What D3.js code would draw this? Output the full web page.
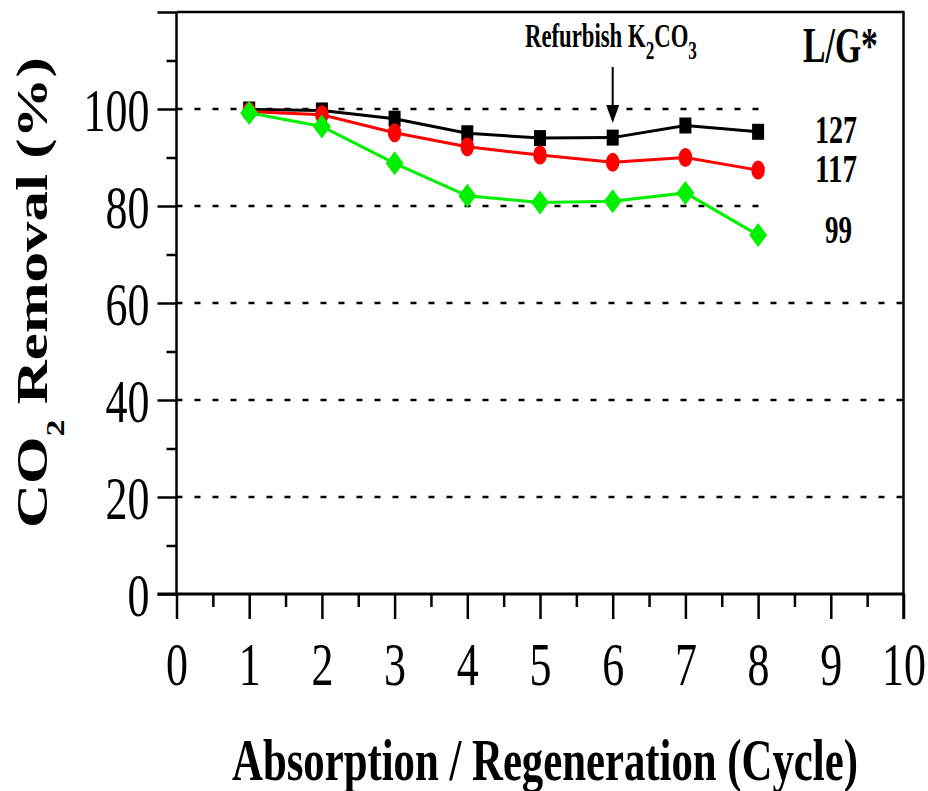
<!DOCTYPE html>
<html><head><meta charset="utf-8">
<script src="https://cdn.jsdelivr.net/npm/d3@7"></script>
<style>html,body{margin:0;padding:0;background:#fff}svg{display:block}</style>
</head><body>
<svg id="chart" width="928" height="791"></svg>
<script>
const cycles = [1, 2, 3, 4, 5, 6, 7, 8];
const lg127 = [99.9, 99.7, 98.0, 95.0, 94.0, 94.1, 96.6, 95.3];
const lg117 = [99.5, 98.8, 95.1, 92.2, 90.5, 89.0, 90.0, 87.4];
const lg99  = [99.2, 96.4, 88.8, 82.1, 80.7, 81.0, 82.7, 74.0];
const seriesLabels = ["127", "117", "99"];
const xMajorTicks = [0, 1, 2, 3, 4, 5, 6, 7, 8, 9, 10];
const xMinorTicks = [0.5, 1.5, 2.5, 3.5, 4.5, 5.5, 6.5, 7.5, 8.5, 9.5];
const yMajorTicks = [0, 20, 40, 60, 80, 100, 120];
const yMinorTicks = [10, 30, 50, 70, 90, 110];
const gridValues = [20, 40, 60, 80, 100];
const xTitle = "Absorption / Regeneration (Cycle)";
const legendTitle = "L/G*";
const refurbishCycle = 6;

const svg = d3.select("#chart");
const x = d3.scaleLinear().domain([0, 10]).range([176.5, 903.5]);
const y = d3.scaleLinear().domain([0, 120]).range([594, 12]);
const SERIF = "'Liberation Serif','Times New Roman',serif";

// grid lines
const gridG = svg.append("g");
gridG.selectAll("line").data(gridValues).join("line")
  .attr("x1", x(0)).attr("x2", d => d >= 80 ? x(8.08) : x(10))
  .attr("y1", d => y(d)).attr("y2", d => y(d))
  .attr("stroke", "#000").attr("stroke-width", 2.5)
  .attr("stroke-dasharray", "6,12");

// axes
const axG = svg.append("g");
const xMaj = axG.append("g").attr("transform", `translate(0,${y(0)})`)
  .call(d3.axisBottom(x).tickValues(xMajorTicks).tickSize(25).tickFormat(d3.format("d")));
const xMin = axG.append("g").attr("transform", `translate(0,${y(0)})`)
  .call(d3.axisBottom(x).tickValues(xMinorTicks).tickSize(13).tickFormat(""));
const yMaj = axG.append("g").attr("transform", `translate(${x(0)},0)`)
  .call(d3.axisLeft(y).tickValues(yMajorTicks).tickSize(19).tickFormat(d => d === 120 ? "" : d));
const yMin = axG.append("g").attr("transform", `translate(${x(0)},0)`)
  .call(d3.axisLeft(y).tickValues(yMinorTicks).tickSize(10).tickFormat(""));
[xMaj, xMin, yMaj, yMin].forEach(g => {
  g.select(".domain").remove();
  g.selectAll(".tick line").attr("stroke", "#000").attr("stroke-width", 2.5);
});
// axis lines / frame
axG.append("line").attr("x1", x(0) - 19).attr("x2", x(10) + 1).attr("y1", y(0)).attr("y2", y(0))
  .attr("stroke", "#000").attr("stroke-width", 3);
axG.append("line").attr("x1", x(0)).attr("x2", x(0)).attr("y1", y(120)).attr("y2", y(0))
  .attr("stroke", "#000").attr("stroke-width", 2.5);
axG.append("line").attr("x1", x(0)).attr("x2", x(10) + 1).attr("y1", y(120)).attr("y2", y(120))
  .attr("stroke", "#000").attr("stroke-width", 2.5);
axG.append("line").attr("x1", x(10)).attr("x2", x(10)).attr("y1", y(120)).attr("y2", y(0) + 25)
  .attr("stroke", "#000").attr("stroke-width", 2.5);

const K = 22 / 31;
xMaj.selectAll(".tick text")
  .attr("x", null).attr("y", null).attr("dy", null)
  .attr("transform", `translate(0,91) scale(${K},1)`)
  .attr("text-anchor", "middle")
  .style("font-family", SERIF).style("font-size", "62px").attr("fill", "#000");
yMaj.selectAll(".tick text")
  .attr("x", null).attr("y", null).attr("dy", null)
  .attr("transform", `translate(-27,21) scale(${K},1)`)
  .attr("text-anchor", "end")
  .style("font-family", SERIF).style("font-size", "62px").attr("fill", "#000");

// series
const series = [
  { vals: lg127, color: "#000000", shape: "square" },
  { vals: lg117, color: "#ff0000", shape: "circle" },
  { vals: lg99,  color: "#00f000", shape: "diamond" }
];
const line = d3.line().x(d => x(d[0])).y(d => y(d[1]));
series.forEach(s => {
  const pts = cycles.map((c, i) => [c, s.vals[i]]);
  const g = svg.append("g");
  g.append("path").datum(pts).attr("d", line).attr("fill", "none")
    .attr("stroke", s.color).attr("stroke-width", 3);
  if (s.shape === "square") {
    g.selectAll("rect").data(pts).join("rect")
      .attr("x", d => x(d[0]) - 6).attr("y", d => y(d[1]) - 8)
      .attr("width", 12).attr("height", 16).attr("fill", s.color);
  } else if (s.shape === "circle") {
    g.selectAll("ellipse").data(pts).join("ellipse")
      .attr("cx", d => x(d[0])).attr("cy", d => y(d[1]))
      .attr("rx", 6.8).attr("ry", 9.5).attr("fill", s.color);
  } else {
    g.selectAll("path.m").data(pts).join("path").attr("class", "m")
      .attr("d", d => { const cx = x(d[0]), cy = y(d[1]);
        return `M${cx},${cy-12}L${cx+9},${cy}L${cx},${cy+12}L${cx-9},${cy}Z`; })
      .attr("fill", s.color);
  }
});

// text helper: place text with left edge at (lx, by baseline) scaled to width w
function fitText(parent, lx, by, w, size, build) {
  const t = parent.append("text").style("font-family", SERIF).style("font-weight", "bold")
    .style("font-size", size + "px").attr("fill", "#000");
  build(t);
  const nat = t.node().getComputedTextLength();
  t.attr("transform", `translate(${lx},${by}) scale(${w / nat},1)`);
  return t;
}

// legend labels
fitText(svg, 803, 62, 75, 51, t => t.text(legendTitle));
const labelPos = [[815, 143, 42], [815, 182, 42], [825, 243, 27]];
seriesLabels.forEach((lab, i) => {
  fitText(svg, labelPos[i][0], labelPos[i][1], labelPos[i][2], 40, t => t.text(lab));
});

// refurbish annotation
fitText(svg, 525, 47, 172, 33, t => {
  t.append("tspan").text("Refurbish K");
  t.append("tspan").attr("dy", 12).style("font-size", "25px").text("2");
  t.append("tspan").attr("dy", -12).text("CO");
  t.append("tspan").attr("dy", 12).style("font-size", "25px").text("3");
});
const ax = x(refurbishCycle);
svg.append("line").attr("x1", ax).attr("x2", ax).attr("y1", 67).attr("y2", 108)
  .attr("stroke", "#000").attr("stroke-width", 2);
svg.append("path").attr("d", `M${ax-6.5},${105}L${ax+6.5},${105}L${ax},${123}Z`).attr("fill", "#000");

// x title
fitText(svg, 232, 780, 626, 60, t => t.text(xTitle));

// y title (rotated)
(function () {
  const t = svg.append("text").style("font-family", SERIF).style("font-weight", "bold")
    .style("font-size", "45px").attr("fill", "#000");
  t.append("tspan").text("CO");
  t.append("tspan").attr("dy", 17).style("font-size", "25px").text("2");
  t.append("tspan").attr("dy", -17).text(" Removal (%)");
  const nat = t.node().getComputedTextLength();
  t.attr("transform", `translate(47,528) rotate(-90) scale(${471 / nat},1)`);
})();
</script>
</body></html>
